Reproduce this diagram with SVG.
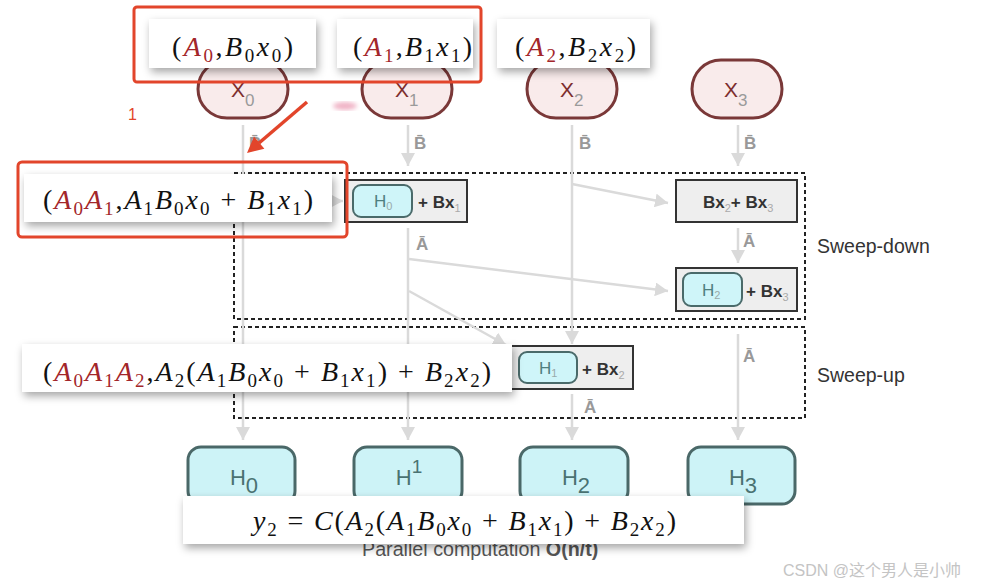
<svg xmlns="http://www.w3.org/2000/svg" width="990" height="587" viewBox="0 0 990 587">
<defs>
<style>
.fm{font-family:"Liberation Serif","DejaVu Serif",serif;font-size:28px;fill:#111}
.it{font-style:italic}
.rd{fill:#a3262a}
.sb{font-size:19px}
.pill{fill:#f9ebeb;stroke:#7a3838;stroke-width:3}
.xl{font-family:"Liberation Sans",Arial,sans-serif;font-size:21px;fill:#7d2e2e}
.xs{font-size:17px;fill:#9a9a9a}
.hn{fill:#cdf3f7;stroke:#4a6868;stroke-width:3}
.ht{font-family:"Liberation Sans",Arial,sans-serif;font-size:22px;fill:#4a7272}
.box{fill:#eeeeee;stroke:#333;stroke-width:2}
.ip{fill:#cff5f9;stroke:#4a6a6a;stroke-width:2}
.pt{font-family:"Liberation Sans",Arial,sans-serif;font-size:17px;fill:#4f7f7f}
.ps{font-size:11px;fill:#99aaaa}
.bt{font-family:"Liberation Sans",Arial,sans-serif;font-size:17px;font-weight:bold;fill:#333}
.bs{font-size:11px;font-weight:normal;fill:#aaa}
.lb{font-family:"Liberation Sans",Arial,sans-serif;font-size:17px;font-weight:bold;fill:#999}
.cn{stroke:#dadada;stroke-width:2.5;fill:none;marker-end:url(#ah)}
.dash{fill:none;stroke:#222;stroke-width:2;stroke-dasharray:4 3}
.wb{fill:#fff;filter:url(#sh)}
.red{fill:none;stroke:#e2452b;stroke-width:3}
.sw{font-family:"Liberation Sans",Arial,sans-serif;font-size:19.5px;fill:#333}
</style>
<marker id="ah" viewBox="0 0 13 14" refX="13" refY="7" markerWidth="13" markerHeight="14" markerUnits="userSpaceOnUse" orient="auto">
<path d="M0,0 L13,7 L0,14 z" fill="#dadada"/>
</marker>
<filter id="sh" x="-10%" y="-30%" width="125%" height="180%">
<feDropShadow dx="2" dy="4" stdDeviation="4" flood-color="#000" flood-opacity="0.35"/>
</filter>
<filter id="blur"><feGaussianBlur stdDeviation="2"/></filter>
</defs>
<rect width="990" height="587" fill="#fff"/>

<g id="sweep-groups">
<rect class="dash" x="234" y="173" width="571" height="146"/>
<rect class="dash" x="234" y="327" width="571" height="91"/>
<text class="sw" x="817" y="253">Sweep-down</text>
<text class="sw" x="817" y="382">Sweep-up</text>
</g>

<g id="connectors">
<line class="cn" x1="243" y1="125" x2="243" y2="440"/>
<line class="cn" x1="243" y1="201" x2="343" y2="201"/>
<line class="cn" x1="408" y1="125" x2="408" y2="166"/>
<line class="cn" x1="408" y1="228" x2="408" y2="440"/>
<line class="cn" x1="409" y1="259" x2="668" y2="291"/>
<line class="cn" x1="409" y1="291" x2="506" y2="345"/>
<line class="cn" x1="572" y1="125" x2="572" y2="344"/>
<line class="cn" x1="572" y1="184" x2="668" y2="203"/>
<line class="cn" x1="572" y1="394" x2="572" y2="440"/>
<line class="cn" x1="738" y1="125" x2="738" y2="166"/>
<line class="cn" x1="738" y1="228" x2="738" y2="263"/>
<line class="cn" x1="738" y1="334" x2="738" y2="440"/>
<text class="lb" x="249" y="149">B̄</text>
<text class="lb" x="414" y="149">B̄</text>
<text class="lb" x="579" y="149">B̄</text>
<text class="lb" x="744" y="149">B̄</text>
<text class="lb" x="416" y="250">Ā</text>
<text class="lb" x="743" y="247">Ā</text>
<text class="lb" x="584" y="413">Ā</text>
<text class="lb" x="743" y="362">Ā</text>
</g>

<g id="x0"><rect class="pill" x="198" y="60" width="90" height="58" rx="29"/><text class="xl" x="231" y="97">X<tspan class="xs" dy="9">0</tspan></text></g>
<g id="x1"><rect class="pill" x="362" y="60" width="90" height="58" rx="29"/><text class="xl" x="395" y="97">X<tspan class="xs" dy="9">1</tspan></text></g>
<g id="x2"><rect class="pill" x="527" y="60" width="90" height="58" rx="29"/><text class="xl" x="560" y="97">X<tspan class="xs" dy="9">2</tspan></text></g>
<g id="x3"><rect class="pill" x="692" y="60" width="90" height="58" rx="29"/><text class="xl" x="724" y="97">X<tspan class="xs" dy="9">3</tspan></text></g>

<g id="h0-bx1"><rect class="box" x="345" y="180" width="122" height="42"/><rect class="ip" x="353" y="185" width="59" height="32" rx="8"/><text class="pt" x="374" y="207">H<tspan class="ps" dy="3">0</tspan></text><text class="bt" x="418" y="208">+ Bx<tspan class="bs" dy="4">1</tspan></text></g>
<g id="bx2-bx3"><rect class="box" x="676" y="180" width="121" height="42"/><text class="bt" x="703" y="208">Bx<tspan class="bs" dy="4">2</tspan><tspan dy="-4">+ Bx</tspan><tspan class="bs" dy="4">3</tspan></text></g>
<g id="h2-bx3"><rect class="box" x="676" y="268" width="121" height="43"/><rect class="ip" x="683" y="273" width="59" height="33" rx="8"/><text class="pt" x="702" y="296">H<tspan class="ps" dy="3">2</tspan></text><text class="bt" x="746" y="297">+ Bx<tspan class="bs" dy="4">3</tspan></text></g>
<g id="h1-bx2"><rect class="box" x="508" y="346" width="125" height="43"/><rect class="ip" x="519" y="352" width="58" height="31" rx="8"/><text class="pt" x="539" y="374">H<tspan class="ps" dy="3">1</tspan></text><text class="bt" x="582" y="375">+ Bx<tspan class="bs" dy="4">2</tspan></text></g>

<g id="H0"><rect class="hn" x="188" y="447" width="107" height="57" rx="13"/><text class="ht" x="244" y="485" text-anchor="middle">H<tspan dy="8">0</tspan></text></g>
<g id="H1"><rect class="hn" x="354" y="447" width="108" height="57" rx="13"/><text class="ht" x="409" y="485" text-anchor="middle">H<tspan font-size="19" dy="-12">1</tspan></text></g>
<g id="H2"><rect class="hn" x="520" y="447" width="108" height="57" rx="13"/><text class="ht" x="576" y="485" text-anchor="middle">H<tspan dy="8">2</tspan></text></g>
<g id="H3"><rect class="hn" x="688" y="447" width="107" height="57" rx="13"/><text class="ht" x="743" y="485" text-anchor="middle">H<tspan dy="8">3</tspan></text></g>

<text id="caption" x="362" y="556" font-family="Liberation Sans, Arial, sans-serif" font-size="19.7" fill="#555">Parallel computation <tspan font-weight="bold">O(n/t)</tspan></text>

<ellipse cx="345" cy="106" rx="12" ry="4" fill="#f0b4c6" filter="url(#blur)"/>

<g id="f1"><rect class="wb" x="149" y="19" width="167" height="49"/><text class="fm" x="172" y="56" textLength="121" lengthAdjust="spacing">(<tspan class="it rd">A</tspan><tspan class="sb rd" dy="6">0</tspan><tspan dy="-6">,</tspan><tspan class="it">B</tspan><tspan class="sb" dy="6">0</tspan><tspan class="it" dy="-6">x</tspan><tspan class="sb" dy="6">0</tspan><tspan dy="-6">)</tspan></text></g>
<g id="f2"><rect class="wb" x="337" y="19" width="136" height="49"/><text class="fm" x="353" y="56" textLength="119" lengthAdjust="spacing">(<tspan class="it rd">A</tspan><tspan class="sb rd" dy="6">1</tspan><tspan dy="-6">,</tspan><tspan class="it">B</tspan><tspan class="sb" dy="6">1</tspan><tspan class="it" dy="-6">x</tspan><tspan class="sb" dy="6">1</tspan><tspan dy="-6">)</tspan></text></g>
<g id="f3"><rect class="wb" x="497" y="19" width="153" height="49"/><text class="fm" x="515" y="56" textLength="121" lengthAdjust="spacing">(<tspan class="it rd">A</tspan><tspan class="sb rd" dy="6">2</tspan><tspan dy="-6">,</tspan><tspan class="it">B</tspan><tspan class="sb" dy="6">2</tspan><tspan class="it" dy="-6">x</tspan><tspan class="sb" dy="6">2</tspan><tspan dy="-6">)</tspan></text></g>

<g id="f4"><rect class="wb" x="24" y="174" width="308" height="48"/><text class="fm" x="43" y="209" textLength="270" lengthAdjust="spacing">(<tspan class="it rd">A</tspan><tspan class="sb rd" dy="6">0</tspan><tspan class="it rd" dy="-6">A</tspan><tspan class="sb rd" dy="6">1</tspan><tspan dy="-6">,</tspan><tspan class="it">A</tspan><tspan class="sb" dy="6">1</tspan><tspan class="it" dy="-6">B</tspan><tspan class="sb" dy="6">0</tspan><tspan class="it" dy="-6">x</tspan><tspan class="sb" dy="6">0</tspan><tspan dy="-6"> + </tspan><tspan class="it">B</tspan><tspan class="sb" dy="6">1</tspan><tspan class="it" dy="-6">x</tspan><tspan class="sb" dy="6">1</tspan><tspan dy="-6">)</tspan></text></g>

<g id="f5"><rect class="wb" x="22" y="344" width="490" height="48"/><text class="fm" x="43" y="381" textLength="448" lengthAdjust="spacing">(<tspan class="it rd">A</tspan><tspan class="sb rd" dy="6">0</tspan><tspan class="it rd" dy="-6">A</tspan><tspan class="sb rd" dy="6">1</tspan><tspan class="it rd" dy="-6">A</tspan><tspan class="sb rd" dy="6">2</tspan><tspan dy="-6">,</tspan><tspan class="it">A</tspan><tspan class="sb" dy="6">2</tspan><tspan dy="-6">(</tspan><tspan class="it">A</tspan><tspan class="sb" dy="6">1</tspan><tspan class="it" dy="-6">B</tspan><tspan class="sb" dy="6">0</tspan><tspan class="it" dy="-6">x</tspan><tspan class="sb" dy="6">0</tspan><tspan dy="-6"> + </tspan><tspan class="it">B</tspan><tspan class="sb" dy="6">1</tspan><tspan class="it" dy="-6">x</tspan><tspan class="sb" dy="6">1</tspan><tspan dy="-6">) + </tspan><tspan class="it">B</tspan><tspan class="sb" dy="6">2</tspan><tspan class="it" dy="-6">x</tspan><tspan class="sb" dy="6">2</tspan><tspan dy="-6">)</tspan></text></g>

<g id="f6"><rect class="wb" x="183" y="496" width="561" height="48"/><text class="fm" x="253" y="530" textLength="423" lengthAdjust="spacing"><tspan class="it">y</tspan><tspan class="sb" dy="6">2</tspan><tspan dy="-6"> = </tspan><tspan class="it">C</tspan>(<tspan class="it">A</tspan><tspan class="sb" dy="6">2</tspan><tspan dy="-6">(</tspan><tspan class="it">A</tspan><tspan class="sb" dy="6">1</tspan><tspan class="it" dy="-6">B</tspan><tspan class="sb" dy="6">0</tspan><tspan class="it" dy="-6">x</tspan><tspan class="sb" dy="6">0</tspan><tspan dy="-6"> + </tspan><tspan class="it">B</tspan><tspan class="sb" dy="6">1</tspan><tspan class="it" dy="-6">x</tspan><tspan class="sb" dy="6">1</tspan><tspan dy="-6">) + </tspan><tspan class="it">B</tspan><tspan class="sb" dy="6">2</tspan><tspan class="it" dy="-6">x</tspan><tspan class="sb" dy="6">2</tspan><tspan dy="-6">)</tspan></text></g>

<g id="annotations">
<rect class="red" x="134" y="7" width="347" height="75" rx="3"/>
<rect class="red" x="18" y="162" width="329" height="75" rx="4"/>
<text x="128" y="120" font-family="Liberation Sans, Arial, sans-serif" font-size="16" fill="#e2452b">1</text>
<line x1="307" y1="102" x2="259" y2="143" stroke="#e2452b" stroke-width="3.5"/>
<polygon points="247,153 264.4,148.7 254,136.5" fill="#e2452b"/>
</g>

<text id="watermark" x="783" y="576" font-family="Liberation Sans, Noto Sans CJK SC, sans-serif" font-size="16" fill="#c4c4c4">CSDN @这个男人是小帅</text>
</svg>
